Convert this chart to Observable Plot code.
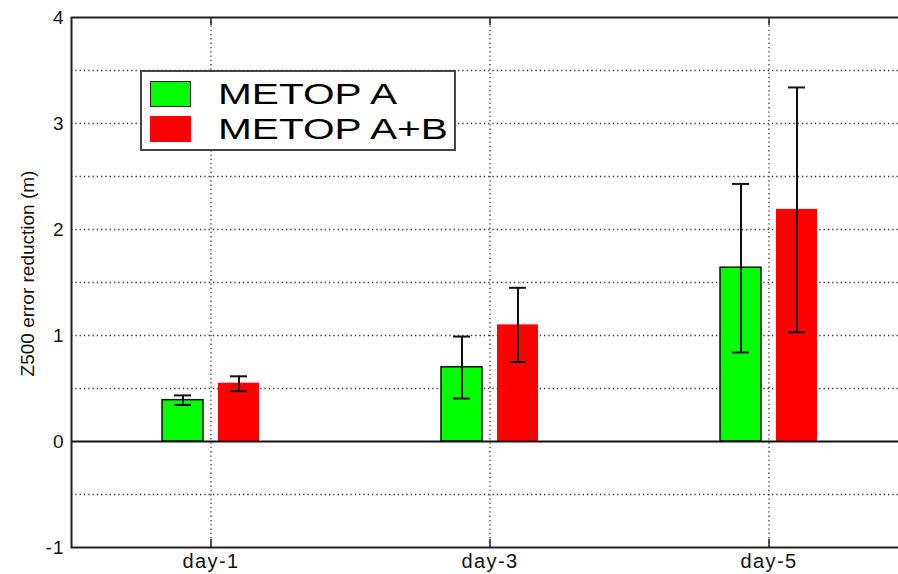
<!DOCTYPE html>
<html>
<head>
<meta charset="utf-8">
<script src="https://cdn.jsdelivr.net/npm/d3@7"></script>
<script src="https://cdn.jsdelivr.net/npm/@observablehq/plot@0.6"></script>
<style>
  html, body { margin: 0; padding: 0; background: #fff; overflow: hidden; }
  #wrap { position: relative; width: 898px; height: 574px; overflow: hidden; }
  #wrap svg { max-width: none !important; }
  #wrap g[aria-label="y-axis tick label"] { font-size: 19px; letter-spacing: 1px; }
  #wrap g[aria-label="x-axis tick label"] { font-size: 20px; letter-spacing: 1.4px; }
  .legend {
    position: absolute; left: 140px; top: 70px; width: 312px; height: 77px;
    border: 2px solid #444; background: #fff;
    font-family: "Liberation Sans", Arial, sans-serif; font-size: 29px; color: #000;
  }
  .legend .row { position: absolute; left: 8px; height: 28px; display: flex; align-items: center; }
  .legend .sw { width: 41px; height: 26px; box-sizing: border-box; flex: none; }
  .legend .lab { margin-left: 27px; line-height: 28px; transform: scaleX(1.4); transform-origin: left center; white-space: nowrap; }
</style>
</head>
<body>
<div id="wrap"></div>
<script>
// Forecast ranges and the two observing configurations
const days = ["day-1", "day-3", "day-5"];
const seriesNames = ["METOP A", "METOP A+B"];
const seriesColors = ["#00ff00", "#ff0000"];

// Mean Z500 error reduction (m) and the error-bar limits for each series
const metopA = [0.39, 0.70, 1.64];
const metopA_lo = [0.345, 0.405, 0.84];
const metopA_hi = [0.435, 0.99, 2.43];
const metopAB = [0.55, 1.10, 2.19];
const metopAB_lo = [0.475, 0.75, 1.03];
const metopAB_hi = [0.615, 1.45, 3.34];

// Axis ticks and dotted grid levels
const yTicks = [-1, 0, 1, 2, 3, 4];
const yGrid = [-0.5, 0.5, 1, 1.5, 2, 2.5, 3, 3.5];

const rowsA = days.map((d, i) => ({day: d, v: metopA[i], lo: metopA_lo[i], hi: metopA_hi[i]}));
const rowsAB = days.map((d, i) => ({day: d, v: metopAB[i], lo: metopAB_lo[i], hi: metopAB_hi[i]}));

const off = 28;       // half distance between the paired bars (px)
const barInset = 119; // leaves bars ~41px wide inside each band
const capInset = 131; // error-bar caps ~17px wide

function errorMarks(rows, dx) {
  return [
    Plot.ruleX(rows, {x: "day", y1: "lo", y2: "hi", dx, stroke: "#111", strokeWidth: 2}),
    Plot.tickY(rows, {x: "day", y: "hi", dx, insetLeft: capInset, insetRight: capInset, stroke: "#111", strokeWidth: 2}),
    Plot.tickY(rows, {x: "day", y: "lo", dx, insetLeft: capInset, insetRight: capInset, stroke: "#111", strokeWidth: 2})
  ];
}

const chart = Plot.plot({
  width: 908,
  height: 574,
  marginLeft: 71,
  marginRight: 0,
  marginTop: 17,
  marginBottom: 27,
  style: {fontFamily: "Liberation Sans, Arial, sans-serif", fontSize: "19px", color: "#111", background: "#fff", maxWidth: "none"},
  x: {type: "band", domain: days, padding: 0, label: null},
  y: {domain: [-1, 4], label: null},
  marks: [
    // dotted grid
    Plot.ruleY(yGrid, {stroke: "#333", strokeWidth: 1.3, strokeDasharray: "1.3,3"}),
    Plot.ruleX(days, {x: d => d, y1: -1, y2: 4, stroke: "#333", strokeWidth: 1.3, strokeDasharray: "1.3,3"}),
    // short inward tick marks on top and bottom edges
    Plot.ruleX(days, {x: d => d, y1: 4, y2: 4, insetBottom: -8, stroke: "#222", strokeWidth: 1.5}),
    Plot.ruleX(days, {x: d => d, y1: -1, y2: -1, insetTop: -8, stroke: "#222", strokeWidth: 1.5}),
    // bars
    Plot.barY(rowsA, {x: "day", y: "v", dx: -off, insetLeft: barInset, insetRight: barInset, fill: seriesColors[0], stroke: "#111", strokeWidth: 1.5}),
    Plot.barY(rowsAB, {x: "day", y: "v", dx: off, insetLeft: barInset, insetRight: barInset, fill: seriesColors[1]}),
    // zero line
    Plot.ruleY([0], {stroke: "#111", strokeWidth: 1.8}),
    ...errorMarks(rowsA, -off),
    ...errorMarks(rowsAB, off),
    // axes
    Plot.axisY({ticks: yTicks, tickFormat: d => `${d}`, tickSize: 0, tickPadding: 7, label: null}),
    Plot.axisX({tickSize: 0, tickPadding: 6, label: null}),
    Plot.text(["Z500 error reduction (m)"], {frameAnchor: "left", textAnchor: "middle", rotate: -90, dx: -44, dy: -9, fontSize: 19, fill: "#111"}),
    Plot.frame({stroke: "#222", strokeWidth: 2})
  ]
});

const wrap = document.getElementById("wrap");
wrap.appendChild(chart);

// legend box drawn on top of the plot area
const legend = document.createElement("div");
legend.className = "legend";
legend.innerHTML = seriesNames.map((name, i) =>
  `<div class="row" style="top:${i === 0 ? 8 : 43}px">` +
  `<div class="sw" style="background:${seriesColors[i]};${i === 0 ? "border:1.5px solid #222;" : ""}"></div>` +
  `<div class="lab">${name}</div></div>`
).join("");
wrap.appendChild(legend);
</script>
</body>
</html>
